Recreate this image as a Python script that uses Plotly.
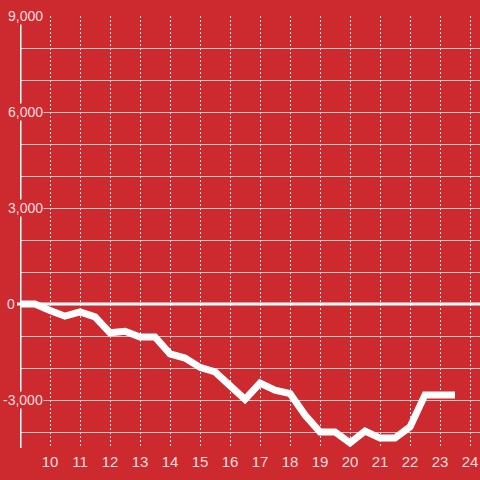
import plotly.graph_objects as go

# Data
x_vals = [9, 9.5, 10, 10.5, 11, 11.5, 12, 12.5, 13, 13.5, 14, 14.5, 15, 15.5,
          16, 16.5, 17, 17.5, 18, 18.5, 19, 19.5, 20, 20.5, 21, 21.5, 22, 22.5,
          23, 23.5]
y_vals = [0, 0, -200, -380, -250, -400, -900, -850, -1030, -1030, -1560, -1690,
          -1980, -2120, -2550, -2980, -2470, -2690, -2800, -3470, -4000, -4000,
          -4340, -3970, -4190, -4190, -3840, -2840, -2840, -2840]
x_ticks = [10, 11, 12, 13, 14, 15, 16, 17, 18, 19, 20, 21, 22, 23, 24]
y_label_vals = [9000, 6000, 3000, 0, -3000]
y_label_text = ["9,000", "6,000", "3,000", "0", "-3,000"]

BG = "#cc2a2f"
TXT = "rgba(255,240,240,0.9)"

fig = go.Figure()
fig.add_trace(go.Scatter(x=x_vals, y=y_vals, mode="lines",
                         line=dict(color="white", width=7),
                         hoverinfo="skip", showlegend=False))

fig.update_layout(
    width=480, height=480,
    margin=dict(l=20, r=0, t=16, b=32, autoexpand=False),
    paper_bgcolor=BG, plot_bgcolor=BG,
    font=dict(family="Liberation Sans, Arial, sans-serif", size=14, color=TXT),
    xaxis=dict(range=[9, 24.333], tickvals=x_ticks, automargin=False,
               ticktext=[str(t) for t in x_ticks],
               showgrid=True, gridcolor="rgba(255,255,255,0.85)", gridwidth=1,
               griddash="2px,2px", zeroline=False, showline=False, ticks="",
               ticklabelstandoff=3,
               tickfont=dict(size=15, color=TXT)),
    yaxis=dict(range=[-4500, 9000], dtick=1000, tick0=0, automargin=False,
               showgrid=True, gridcolor="#cfc6c6", gridwidth=1,
               zeroline=False, showline=False, showticklabels=False, ticks=""),
)

# y axis line and zero line
fig.add_shape(type="line", xref="x", yref="paper", x0=9, x1=9, y0=0, y1=1,
              line=dict(color="white", width=3), layer="above")
fig.add_shape(type="line", xref="paper", yref="y", x0=-0.0065, x1=1, y0=0, y1=0,
              line=dict(color="white", width=3), layer="above")

for v, t in zip(y_label_vals, y_label_text):
    right_px = 16 if v == 0 else 44
    fig.add_annotation(x=(right_px - 20) / 460, xref="paper", y=v, yref="y",
                       text=t, showarrow=False, xanchor="right", yanchor="middle",
                       bgcolor=BG, borderpad=0,
                       font=dict(size=14, color=TXT))

fig.write_html("out.html", config={"displayModeBar": False},
               post_script="document.body.style.margin='0';document.body.style.overflow='hidden';")
